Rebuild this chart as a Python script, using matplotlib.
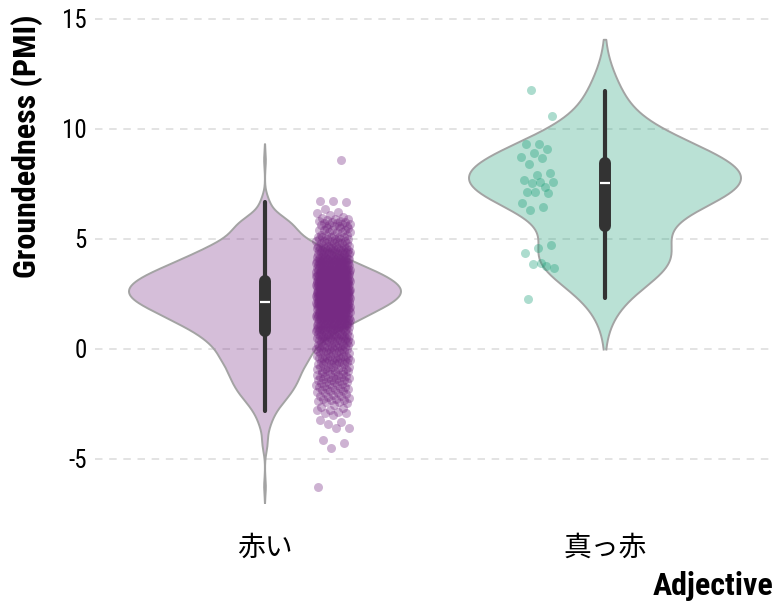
import numpy as np
import matplotlib
matplotlib.use("Agg")
import matplotlib.pyplot as plt
from matplotlib import font_manager

# ---------------------------------------------------------------- data
categories = ["赤い", "真っ赤"]

# 赤い: dense core stored as a frequency table on a 0.1 grid, tails as single values
akai_core_values = np.round(np.arange(-1.0, 5.55, 0.1), 1)
akai_core_counts = [5, 5, 5, 5, 6, 6, 6, 6, 6, 6,
                    6, 7, 7, 7, 8, 8, 8, 9, 9, 10,
                    10, 11, 12, 12, 13, 13, 14, 14, 15, 16,
                    16, 17, 17, 18, 18, 18, 19, 18, 18, 18,
                    17, 17, 17, 16, 15, 15, 14, 13, 13, 12,
                    11, 11, 10, 9, 9, 8, 8, 7, 6, 6,
                    5, 5, 4, 4, 4, 3]
akai_low = [-1.07, -1.09, -1.12, -1.13, -1.16, -1.19, -1.21, -1.22, -1.25, -1.28,
            -1.29, -1.31, -1.34, -1.35, -1.37, -1.39, -1.41,
            -1.43, -1.46, -1.48, -1.49, -1.52, -1.56, -1.57, -1.60, -1.63, -1.65,
            -1.67, -1.71, -1.73, -1.74, -1.77, -1.81, -1.83, -1.85, -1.88, -1.91,
            -1.93, -1.96, -1.98,
            -2.01, -2.05, -2.08, -2.12, -2.14, -2.19, -2.21, -2.25, -2.28, -2.31,
            -2.32, -2.36, -2.40, -2.43, -2.47,
            -2.55, -2.62, -2.70, -2.77, -2.78, -2.85, -2.92, -2.93, -3.00, -3.23,
            -3.30, -3.41, -3.58, -3.61, -4.14, -4.26, -4.51, -6.26]
akai_high = [5.57, 5.58, 5.60, 5.61, 5.64, 5.66, 5.67, 5.70, 5.72, 5.74, 5.76,
             5.79, 5.81, 5.84, 5.86, 5.89, 5.93, 5.97, 6.02, 6.08, 6.18, 6.25,
             6.36, 6.69, 6.72, 6.74, 8.59]

makka = [11.77, 10.60, 9.32, 9.30, 9.10, 8.89, 8.74, 8.70, 8.41, 7.98,
         7.90, 7.68, 7.38, 7.53, 7.58, 7.57, 7.15, 7.11, 7.12, 6.62,
         6.47, 6.32, 4.75, 4.58, 4.38, 3.77, 3.86, 3.68, 3.92, 2.26]

# box summaries (Q1, median, Q3, whisker ends)
box_q1 = [0.80, 5.60]
box_med = [2.15, 7.56]
box_q3 = [3.10, 8.47]
whisk_lo = [-2.82, 2.30]
whisk_hi = [6.68, 11.72]

yticks = [-5, 0, 5, 10, 15]

# ---------------------------------------------------------------- fonts
available = {f.name for f in font_manager.fontManager.ttflist}


def pick(*names):
    for n in names:
        if n in available:
            return n
    return "DejaVu Sans"


latin = pick("Roboto Condensed", "Liberation Sans Narrow", "Roboto")
cjk = pick("Noto Sans CJK JP", "Noto Sans CJK SC")
plt.rcParams["font.family"] = [latin, cjk, "DejaVu Sans"]

# ---------------------------------------------------------------- style
purple = "#762a83"
teal = "#1b9e77"
colors = [purple, teal]
edge = "#a3a3a3"
box_col = "#333333"

akai = np.concatenate([np.repeat(akai_core_values, akai_core_counts),
                       np.array(akai_low), np.array(akai_high)])
groups = [akai, np.array(makka)]


def gauss_kde(values, bw, grid):
    d = (grid[:, None] - values[None, :]) / bw
    return np.exp(-0.5 * d ** 2).sum(axis=1) / (len(values) * bw * np.sqrt(2 * np.pi))


bandwidths = [0.36, np.std(makka, ddof=1) * len(makka) ** (-0.2)]

fig = plt.figure(figsize=(7.76, 6.08), dpi=100)
ax = fig.add_axes([95 / 776, 1 - 509.6 / 608, 680 / 776, 499.4 / 608])
ax.set_xlim(-0.5, 1.5)
ax.set_ylim(-7.3, 15.4)

for s in ax.spines.values():
    s.set_visible(False)
ax.set_axisbelow(True)
ax.yaxis.grid(True, color="#dedede", linewidth=1.2, linestyle=(0, (4.5, 4.0)))
ax.xaxis.grid(False)
ax.tick_params(length=0)

half_width = 0.4
for i, vals in enumerate(groups):
    bw = bandwidths[i]
    grid = np.linspace(vals.min() - 2 * bw, vals.max() + 2 * bw, 600)
    dens = gauss_kde(vals, bw, grid)
    w = dens / dens.max() * half_width
    ax.fill_betweenx(grid, i - w, i + w, facecolor=colors[i], alpha=0.3,
                     linewidth=0, zorder=1)
    ax.plot(np.concatenate([i - w, (i + w)[::-1]]),
            np.concatenate([grid, grid[::-1]]),
            color=edge, linewidth=1.4, zorder=2)

    # inner box
    ax.plot([i, i], [whisk_lo[i], whisk_hi[i]], color=box_col, linewidth=3.0,
            solid_capstyle="round", zorder=4)
    ax.plot([i, i], [box_q1[i], box_q3[i]], color=box_col, linewidth=8.6,
            solid_capstyle="round", zorder=4)
    ax.plot([i - 0.014, i + 0.014], [box_med[i], box_med[i]], color="white",
            linewidth=1.6, solid_capstyle="butt", zorder=5)

# jittered points beside each violin
golden = 0.6180339887
offsets = [0.2, -0.2]
for i, vals in enumerate(groups):
    k = np.arange(len(vals))
    jit = ((k * golden + 0.31) % 1.0) * 2 - 1
    xs = i + offsets[i] + jit * 0.05
    ax.scatter(xs, vals, s=42, color=colors[i], alpha=0.36, linewidths=0,
               zorder=3)

ax.set_yticks(yticks)
ax.set_yticklabels([str(t) for t in yticks], fontsize=18, family=latin)
ax.tick_params(axis="y", pad=6)
ax.set_xticks([0, 1])
ax.set_xticklabels(categories, fontsize=20, family=[cjk, latin])
ax.tick_params(axis="x", pad=17)

fig.text(27 / 776, 1 - 14 / 608, "Groundedness (PMI)", rotation=90,
         ha="center", va="top", fontsize=23, fontweight="bold", family=latin)
fig.text(773 / 776, 1 - 595 / 608, "Adjective", ha="right", va="baseline",
         fontsize=23, fontweight="bold", family=latin)

fig.savefig("out.png", dpi=100)
